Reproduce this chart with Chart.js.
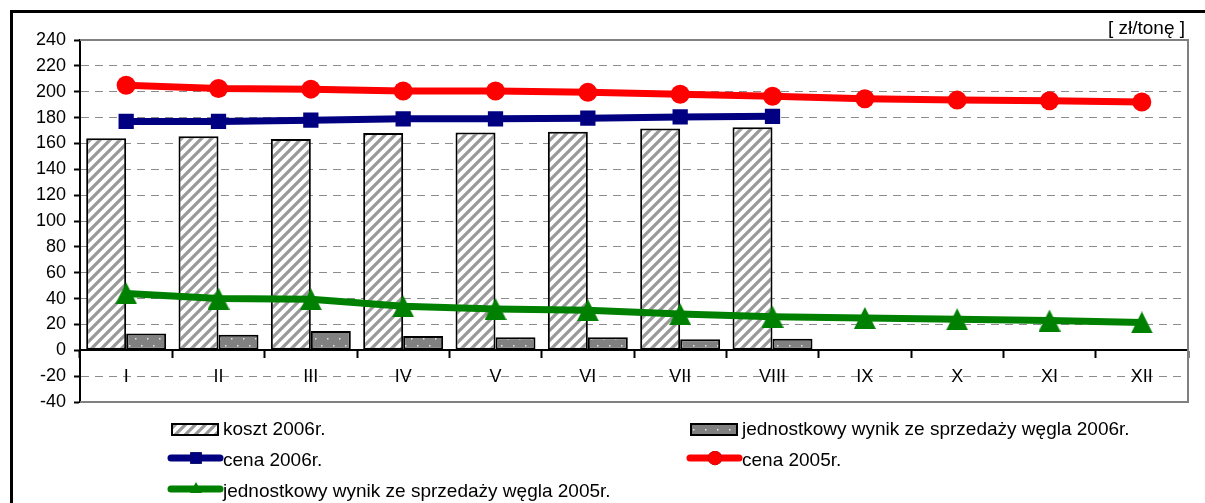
<!DOCTYPE html>
<html>
<head>
<meta charset="utf-8">
<script src="https://cdn.jsdelivr.net/npm/chart.js@4"></script>
<style>
html, body { margin: 0; padding: 0; background: #fff; }
</style>
</head>
<body>
<canvas id="graphic" width="1205" height="503"></canvas>
<script>
var miesiace = ['I', 'II', 'III', 'IV', 'V', 'VI', 'VII', 'VIII', 'IX', 'X', 'XI', 'XII'];
var koszt2006 = [164, 165.5, 163.5, 168, 168.5, 169, 171.5, 172.5];
var wynik2006 = [13, 12, 15, 11, 10, 10, 8.5, 9];
var cena2006 = [177, 177, 178, 179, 179, 179.5, 180.5, 181];
var cena2005 = [205, 202.5, 202, 200.5, 200.5, 199.5, 198, 196.5, 194.5, 193.5, 193, 192];
var wynik2005 = [44, 40, 39.5, 34, 32, 31, 28, 26, 25, 24, 23, 21.5];
var zakresY = [-40, 240];
var krokY = 20;
var jednostka = '[ zł/tonę ]';

var czcionka = 'Arial, "Liberation Sans", sans-serif';

function wzorKreski() {
    var p = document.createElement('canvas');
    p.width = 10; p.height = 10;
    var c = p.getContext('2d');
    c.fillStyle = '#fff';
    c.fillRect(0, 0, 10, 10);
    c.strokeStyle = '#999';
    c.lineWidth = 3.2;
    c.beginPath();
    c.moveTo(-2, 12); c.lineTo(12, -2);
    c.moveTo(-7, 7); c.lineTo(7, -7);
    c.moveTo(3, 17); c.lineTo(17, 3);
    c.stroke();
    return c.createPattern(p, 'repeat');
}

function wzorKropki() {
    var p = document.createElement('canvas');
    p.width = 12; p.height = 14;
    var c = p.getContext('2d');
    c.fillStyle = '#808080';
    c.fillRect(0, 0, 12, 14);
    c.fillStyle = '#e8e8e8';
    c.fillRect(3, 2, 1.5, 1.5);
    c.fillRect(9, 9, 1.5, 1.5);
    return c.createPattern(p, 'repeat');
}

// trojkat wysrodkowany w prostokacie (jak w Excelu)
function trojkat(w, h, kolor) {
    var p = document.createElement('canvas');
    p.width = w; p.height = h;
    var c = p.getContext('2d');
    c.fillStyle = kolor;
    c.beginPath();
    c.moveTo(w / 2, 0);
    c.lineTo(w, h);
    c.lineTo(0, h);
    c.closePath();
    c.fill();
    return p;
}

var kreski = wzorKreski();
var kropki = wzorKropki();
var trojkatDuzy = trojkat(22, 22, '#008000');
var trojkatMaly = trojkat(12, 11, '#008000');

var ramka = {
    id: 'ramka',
    beforeDraw: function (chart) {
        var c = chart.ctx;
        c.save();
        c.fillStyle = '#fff';
        c.fillRect(0, 0, chart.width, chart.height);
        c.restore();
    },
    afterDraw: function (chart) {
        var c = chart.ctx;
        var a = chart.chartArea;
        c.save();
        // szara ramka obszaru wykresu
        c.strokeStyle = '#808080';
        c.lineWidth = 2;
        c.beginPath();
        c.moveTo(a.left, a.top);
        c.lineTo(a.right, a.top);
        c.lineTo(a.right, a.bottom);
        c.lineTo(a.left, a.bottom);
        c.stroke();
        // ramka zewnetrzna
        c.fillStyle = '#000';
        c.fillRect(10, 10, 3, chart.height);
        c.fillRect(10, 10, chart.width, 3);
        // jednostka
        c.font = '19px ' + czcionka;
        c.textAlign = 'right';
        c.textBaseline = 'middle';
        c.fillText(jednostka, a.right - 3, 29);
        // legenda
        var kolX = [170, 689];
        var wierszY = [430, 461, 492];
        chart.data.datasets.forEach(function (ds, i) {
            var x = kolX[i % 2];
            var y = wierszY[Math.floor(i / 2)];
            if (ds.type === 'line') {
                c.strokeStyle = ds.borderColor;
                c.lineWidth = 7;
                c.lineCap = 'round';
                c.beginPath();
                c.moveTo(x + 1, y - 3);
                c.lineTo(x + 50, y - 3);
                c.stroke();
                if (ds.pointStyle instanceof HTMLCanvasElement) {
                    c.drawImage(trojkatMaly, x + 20, y - 10);
                } else {
                    Chart.helpers.drawPoint(c, {pointStyle: ds.pointStyle, radius: ds.pointRadius * 0.75, borderWidth: 0}, x + 26, y - 3);
                    c.fillStyle = ds.backgroundColor;
                    c.fill();
                }
            } else {
                c.fillStyle = ds.backgroundColor;
                c.fillRect(x + 2, y - 6, 46, 11);
                c.strokeStyle = '#000';
                c.lineWidth = 2;
                c.strokeRect(x + 2, y - 6, 46, 11);
            }
            c.fillStyle = '#000';
            c.font = '19px ' + czcionka;
            c.textAlign = 'left';
            c.textBaseline = 'middle';
            c.fillText(ds.label, x + 53, y);
        });
        c.restore();
    }
};

var ctx = document.getElementById('graphic');

var chartGraph = new Chart(ctx, {
    type: 'bar',
    data: {
        labels: miesiace,
        datasets: [{
            label: 'koszt 2006r.',
            data: koszt2006,
            backgroundColor: kreski,
            borderColor: '#000',
            borderWidth: 2,
            borderSkipped: false,
            order: 2
        }, {
            label: 'jednostkowy wynik ze sprzedaży węgla 2006r.',
            data: wynik2006,
            backgroundColor: kropki,
            borderColor: '#000',
            borderWidth: 2,
            borderSkipped: false,
            order: 2
        }, {
            type: 'line',
            label: 'cena 2006r.',
            data: cena2006,
            borderColor: '#000080',
            backgroundColor: '#000080',
            borderWidth: 7,
            pointStyle: 'rect',
            pointRadius: 10.8,
            pointBorderWidth: 0,
            order: 1
        }, {
            type: 'line',
            label: 'cena 2005r.',
            data: cena2005,
            borderColor: '#ff0000',
            backgroundColor: '#ff0000',
            borderWidth: 7,
            pointStyle: 'circle',
            pointRadius: 9.5,
            pointBorderWidth: 0,
            order: 1
        }, {
            type: 'line',
            label: 'jednostkowy wynik ze sprzedaży węgla 2005r.',
            data: wynik2005,
            borderColor: '#008000',
            backgroundColor: '#008000',
            borderWidth: 7,
            pointStyle: trojkatDuzy,
            pointRadius: 11,
            pointBorderWidth: 0,
            order: 1
        }]
    },
    options: {
        responsive: false,
        animation: false,
        devicePixelRatio: 1,
        layout: {
            padding: {left: 12, right: 17, top: 40, bottom: 101}
        },
        datasets: {
            bar: {categoryPercentage: 0.866, barPercentage: 1}
        },
        plugins: {
            legend: {display: false},
            tooltip: {enabled: false}
        },
        scales: {
            x: {
                position: {y: 0},
                offset: true,
                grid: {
                    display: true,
                    offset: true,
                    drawOnChartArea: false,
                    drawTicks: true,
                    tickLength: 7,
                    tickColor: '#000',
                    tickWidth: 2
                },
                border: {color: '#000', width: 2},
                ticks: {
                    color: '#000',
                    font: {family: czcionka, size: 18},
                    padding: 9,
                    autoSkip: false,
                    maxRotation: 0
                }
            },
            y: {
                min: zakresY[0],
                max: zakresY[1],
                ticks: {
                    stepSize: krokY,
                    color: '#000',
                    font: {family: czcionka, size: 18},
                    padding: 8
                },
                grid: {
                    color: '#8c8c8c',
                    lineWidth: 1,
                    tickLength: 6,
                    tickColor: '#000',
                    tickWidth: 2,
                    tickBorderDash: []
                },
                border: {color: '#000', width: 2, dash: [8, 6]},
                afterFit: function (s) { s.width = 68; }
            }
        }
    },
    plugins: [ramka]
});
</script>
</body>
</html>
